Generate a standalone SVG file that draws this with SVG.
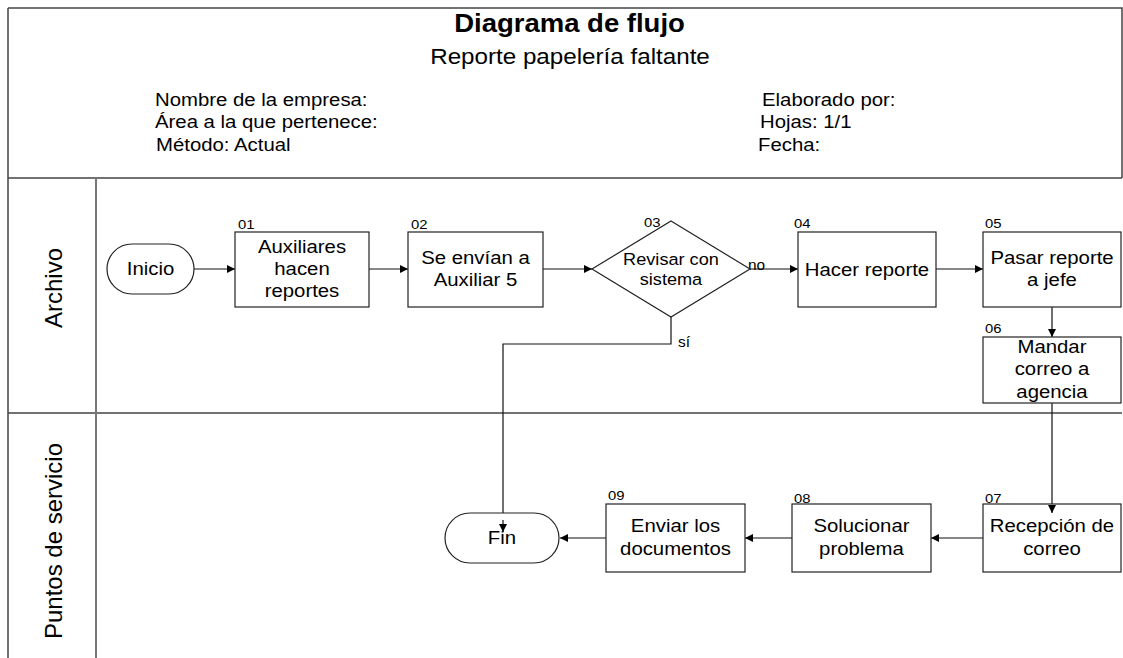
<svg xmlns="http://www.w3.org/2000/svg" width="1123" height="658" viewBox="0 0 1123 658">
  <style>
    text { font-family: "Liberation Sans", Arial, Helvetica, sans-serif; fill: #000; }
    .frame { stroke: #444; stroke-width: 1.5; fill: none; }
    .lane { stroke: #777; stroke-width: 2; fill: none; }
    .node { fill: #fff; stroke: #222; stroke-width: 1.2; }
    .conn { fill: none; stroke: #111; stroke-width: 1.2; }
    .lbl { font-size: 18.5px; text-anchor: middle; }
    .dlbl { font-size: 16.5px; text-anchor: middle; }
    .num { font-size: 13.5px; }
    .edge { font-size: 14px; }
    .hdr { font-size: 18.5px; }
    .lanelbl { font-size: 24px; text-anchor: middle; }
    .sx { transform-box: fill-box; transform-origin: center; transform: scaleX(1.1); }
    .sxl { transform-box: fill-box; transform-origin: left center; transform: scaleX(1.1); }
  </style>
  <defs>
    <marker id="arrow" viewBox="0 0 10 10" refX="10" refY="5" markerWidth="9" markerHeight="8" markerUnits="userSpaceOnUse" orient="auto">
      <path d="M0,0 L10,5 L0,10 z" fill="#000"/>
    </marker>
  </defs>

  <rect width="1123" height="658" fill="#fff"/>

  <!-- page frame and swimlanes -->
  <g id="frame">
    <path class="frame" d="M8,8 H1122 V178 M8,8 V658 M8,178 H1122 M8,413 H1122"/>
    <path class="lane" d="M96,178 V658"/>
  </g>

  <!-- header block -->
  <g id="header">
    <text class="sx" x="569.5" y="32" font-size="25" font-weight="bold" text-anchor="middle">Diagrama de flujo</text>
    <text class="sx" x="570" y="64" font-size="22" text-anchor="middle">Reporte papelería faltante</text>
    <text class="hdr sxl" x="155" y="106">Nombre de la empresa:</text>
    <text class="hdr sxl" x="155" y="128.5">Área a la que pertenece:</text>
    <text class="hdr sxl" x="156" y="151">Método: Actual</text>
    <text class="hdr sxl" x="762" y="106">Elaborado por:</text>
    <text class="hdr sxl" x="760" y="128.5">Hojas: 1/1</text>
    <text class="hdr sxl" x="758" y="151">Fecha:</text>
  </g>

  <!-- lane titles -->
  <g id="lane-archivo">
    <text class="lanelbl" transform="translate(62,288) rotate(-90)">Archivo</text>
  </g>
  <g id="lane-puntos">
    <text class="lanelbl" transform="translate(62,541) rotate(-90)">Puntos de servicio</text>
  </g>

  <!-- connectors -->
  <g id="connectors">
    <path class="conn" d="M194,269 H235" marker-end="url(#arrow)"/>
    <path class="conn" d="M369,269 H408" marker-end="url(#arrow)"/>
    <path class="conn" d="M543,269 H592" marker-end="url(#arrow)"/>
    <path class="conn" d="M750,269 H798" marker-end="url(#arrow)"/>
    <path class="conn" d="M936,269 H983" marker-end="url(#arrow)"/>
    <path class="conn" d="M1052,307 V337" marker-end="url(#arrow)"/>
    <path class="conn" d="M1052,403 V513" marker-end="url(#arrow)"/>
    <path class="conn" d="M983,538 H931" marker-end="url(#arrow)"/>
    <path class="conn" d="M792,538 H745" marker-end="url(#arrow)"/>
    <path class="conn" d="M606,538 H560" marker-end="url(#arrow)"/>
    <path class="conn" d="M671,317 V344 H503 V532" marker-end="url(#arrow)"/>
    <text class="edge sxl" x="748" y="270">no</text>
    <text class="edge sxl" x="678" y="347">sí</text>
  </g>

  <!-- nodes -->
  <g id="inicio">
    <rect class="node" x="107" y="244" width="87" height="50" rx="25" ry="25"/>
    <text class="lbl sx" x="150.5" y="275">Inicio</text>
  </g>

  <g id="n01">
    <text class="num sxl" x="238" y="229">01</text>
    <rect class="node" x="235" y="232" width="134" height="75"/>
    <text class="lbl sx" x="302" y="253">Auxiliares</text>
    <text class="lbl sx" x="302" y="275">hacen</text>
    <text class="lbl sx" x="302" y="297">reportes</text>
  </g>

  <g id="n02">
    <text class="num sxl" x="411" y="229">02</text>
    <rect class="node" x="408" y="232" width="135" height="75"/>
    <text class="lbl sx" x="475.5" y="264">Se envían a</text>
    <text class="lbl sx" x="475.5" y="286">Auxiliar 5</text>
  </g>

  <g id="n03">
    <polygon class="node" points="671,221 750,269 671,317 592,269"/>
    <text class="num sxl" x="644" y="227">03</text>
    <text class="dlbl sx" x="671" y="265">Revisar con</text>
    <text class="dlbl sx" x="671" y="285">sistema</text>
  </g>

  <g id="n04">
    <text class="num sxl" x="794" y="228">04</text>
    <rect class="node" x="798" y="232" width="138" height="75"/>
    <text class="lbl sx" x="867" y="276">Hacer reporte</text>
  </g>

  <g id="n05">
    <text class="num sxl" x="985" y="228">05</text>
    <rect class="node" x="983" y="232" width="138" height="75"/>
    <text class="lbl sx" x="1052" y="264">Pasar reporte</text>
    <text class="lbl sx" x="1052" y="286.5">a jefe</text>
  </g>

  <g id="n06">
    <text class="num sxl" x="985" y="333">06</text>
    <rect class="node" x="983" y="337" width="138" height="66"/>
    <text class="lbl sx" x="1052" y="353">Mandar</text>
    <text class="lbl sx" x="1052" y="375.5">correo a</text>
    <text class="lbl sx" x="1052" y="398">agencia</text>
  </g>

  <g id="n07">
    <text class="num sxl" x="985" y="503">07</text>
    <rect class="node" x="983" y="504" width="138" height="68"/>
    <text class="lbl sx" x="1052" y="532">Recepción de</text>
    <text class="lbl sx" x="1052" y="555">correo</text>
  </g>

  <g id="n08">
    <text class="num sxl" x="794" y="503">08</text>
    <rect class="node" x="792" y="504" width="139" height="68"/>
    <text class="lbl sx" x="861.5" y="532">Solucionar</text>
    <text class="lbl sx" x="861.5" y="555">problema</text>
  </g>

  <g id="n09">
    <text class="num sxl" x="608" y="500">09</text>
    <rect class="node" x="606" y="504" width="139" height="68"/>
    <text class="lbl sx" x="675.5" y="532">Enviar los</text>
    <text class="lbl sx" x="675.5" y="555">documentos</text>
  </g>

  <g id="fin">
    <rect class="node" x="445" y="513" width="114" height="50" rx="25" ry="25"/>
    <text class="lbl sx" x="502" y="544">Fin</text>
  </g>

  <!-- arrowheads that sit over node outlines -->
  <g id="connector-tips">
    <path class="conn" d="M503,520 V532" marker-end="url(#arrow)"/>
    <path class="conn" d="M1052,505 V513" marker-end="url(#arrow)"/>
  </g>
</svg>
